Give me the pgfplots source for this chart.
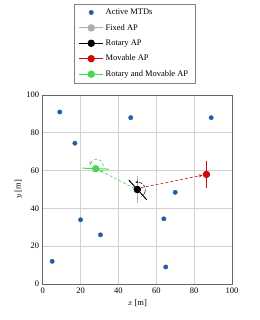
\documentclass[border=0pt]{standalone}
\usepackage{pgfplots}
\pgfplotsset{compat=1.18}
\usepackage{fontspec}
\setmainfont{Liberation Serif}
\usetikzlibrary{arrows.meta}
\definecolor{mtd}{RGB}{31,96,165}
\definecolor{fixc}{RGB}{175,175,175}
\definecolor{movc}{RGB}{205,10,10}
\definecolor{rmc}{RGB}{70,215,85}
\begin{document}
\begin{tikzpicture}
\begin{axis}[
  scale only axis, width=189.3bp, height=189bp,
  xmin=0, xmax=100, ymin=0, ymax=100,
  xtick={0,20,...,100}, ytick={0,20,...,100},
  grid=major, major grid style={gray!35, line width=0.6pt},
  axis line style={black!60, line width=1pt},
  tick style={draw=none},
  clip=false,
  font=\fontsize{8.5}{10}\selectfont,
  tick label style={font=\fontsize{8.5}{10}\selectfont},
  /pgf/number format/assume math mode=true,
  xlabel={$x$ [m]}, ylabel={$y$ [m]},
  xlabel style={yshift=0pt}, ylabel style={yshift=-2.5pt},
  legend style={at={(0.485,1.063)}, anchor=south, draw=black!50, font=\fontsize{8.5}{10}\selectfont,
    row sep=4.2pt, inner xsep=5pt, inner ysep=3pt},
  legend image code/.code={\draw[mark repeat=2,mark phase=2,#1] plot coordinates {(0cm,0cm) (0.42cm,0cm) (0.84cm,0cm)};},
  legend cell align=left,
]
\coordinate (O) at (rel axis cs:0,0);
\addplot[only marks, mark=*, mark size=2.2pt, color=mtd] coordinates {
 (9,91) (17,74.5) (46.5,88) (89,88) (20,34) (30.5,26) (5,12) (64,34.5) (70,48.5) (65,9)};
\addlegendentry{Active MTDs}
% Fixed AP
\addplot[fixc, line width=1pt, mark=*, mark size=3.2pt, mark indices={2}] coordinates {(50,43) (50,50) (50,57)};
\addlegendentry{Fixed AP}
% Rotary AP
\addplot[black, line width=1pt, mark=*, mark size=3.2pt, mark indices={2}] coordinates {(45.5,55) (50,50) (55,44.5)};
\addlegendentry{Rotary AP}
% Movable AP
\addplot[movc, line width=1pt, mark=*, mark size=3.2pt, mark indices={2}] coordinates {(86.5,51) (86.5,58) (86.5,65)};
\addlegendentry{Movable AP}
% Rotary and Movable AP
\addplot[rmc, line width=1pt, mark=*, mark size=3.2pt, mark indices={2}] coordinates {(21,61.3) (28,61) (35,60.8)};
\addlegendentry{Rotary and Movable AP}
% dashed movement arrows
\addplot[movc, densely dashed, line width=0.6pt, -{Stealth[length=4pt]}, forget plot] coordinates {(52,51) (84.5,57.6)};
\addplot[rmc, densely dashed, line width=0.6pt, -{Stealth[length=4pt]}, forget plot] coordinates {(48.5,50.6) (30,60.2)};
% rotation arcs
\draw[black, densely dashed, line width=0.5pt, -{Stealth[length=3pt]}] (axis cs:54,48.5) arc[start angle=-20, end angle=110, radius=7.5bp];
\draw[black, densely dashed, line width=0.5pt] (axis cs:54,48.5) arc[start angle=-20, end angle=-60, radius=7.5bp];
\draw[rmc, densely dashed, line width=0.6pt, -{Stealth[length=3.5pt]}] (axis cs:32,62.5) arc[start angle=0, end angle=175, radius=6.5bp];
\end{axis}
\path (O) ++(-42.7bp,-36bp) rectangle ++(260bp,320bp);
\end{tikzpicture}
\end{document}
